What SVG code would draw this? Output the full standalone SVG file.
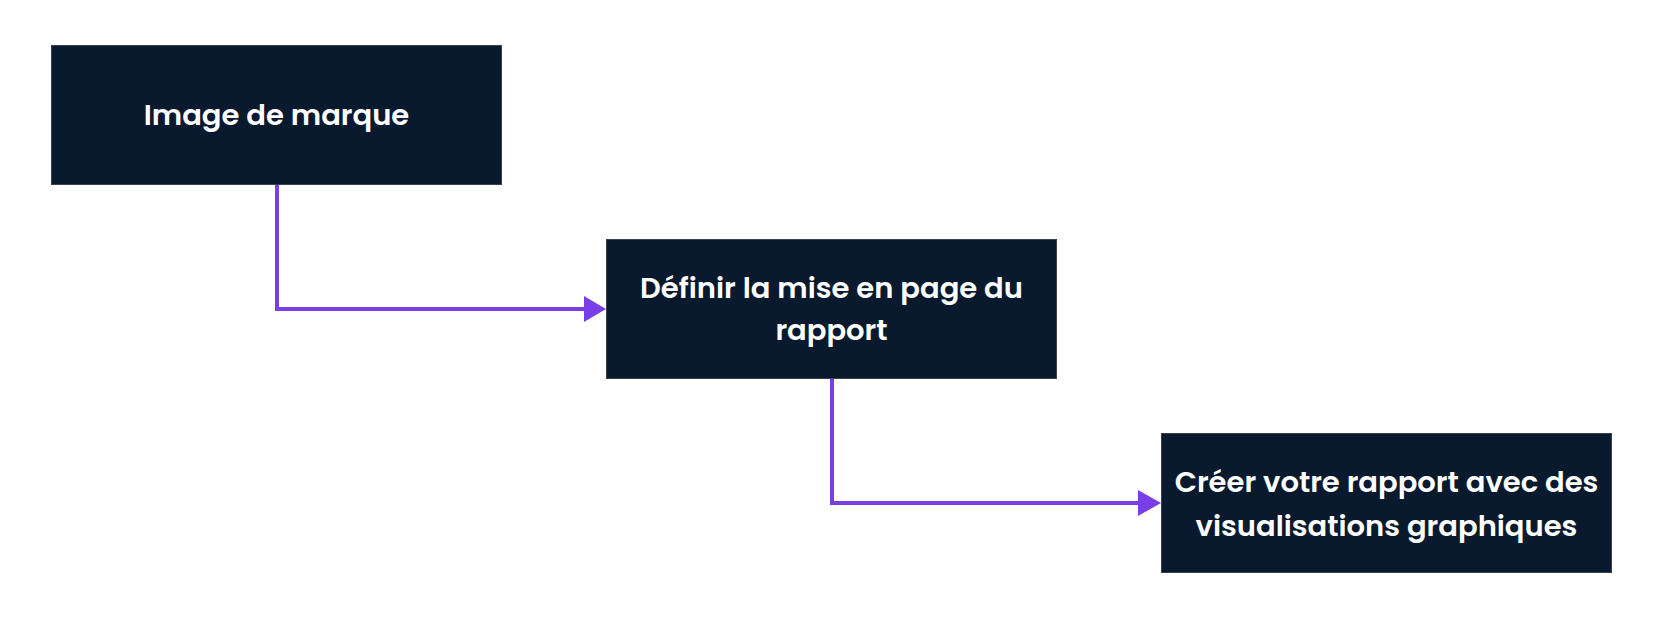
<svg xmlns="http://www.w3.org/2000/svg" width="1656" height="624" viewBox="0 0 1656 624">
<style>
.box{fill:#0a1a2e;stroke:#3a4250;stroke-width:1}
.lbl{font-family:Poppins,"Open Sans","Noto Sans",sans-serif;font-weight:600;font-size:29px;fill:#ffffff;text-anchor:middle}
.conn{fill:none;stroke:#7a3ee6;stroke-width:4}
.head{fill:#7a3ee6}
</style>
<rect width="1656" height="624" fill="#ffffff"/>
<g id="connectors">
<path class="conn" d="M277 184 V309 H586"/>
<polygon class="head" points="584,296 606,309 584,322"/>
<path class="conn" d="M832 379 V503 H1140"/>
<polygon class="head" points="1138,490 1161,503 1138,516"/>
</g>
<g id="node1">
<rect class="box" x="51.5" y="45.5" width="450" height="139"/>
<text class="lbl" x="276.5" y="125">Image de marque</text>
</g>
<g id="node2">
<rect class="box" x="606.5" y="239.5" width="450" height="139"/>
<text class="lbl" x="831.5" y="298">Définir la mise en page du</text>
<text class="lbl" x="831.5" y="340">rapport</text>
</g>
<g id="node3">
<rect class="box" x="1161.5" y="433.5" width="450" height="139"/>
<text class="lbl" x="1386.5" y="492">Créer votre rapport avec des</text>
<text class="lbl" x="1386.5" y="536">visualisations graphiques</text>
</g>
</svg>
